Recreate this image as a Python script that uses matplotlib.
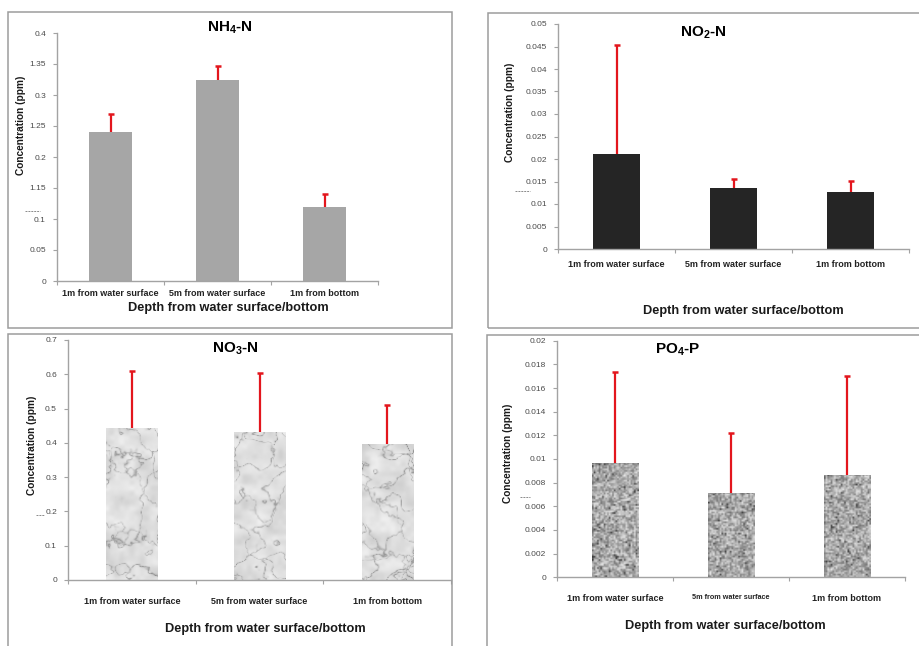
import numpy as np
import matplotlib
matplotlib.use("Agg")
import matplotlib.pyplot as plt
from matplotlib.patches import Rectangle
from matplotlib.lines import Line2D

# ---------------- data ----------------
categories = ["1m from water surface", "5m from water surface", "1m from bottom"]

nh4_values = [0.240, 0.325, 0.120]
nh4_err = [0.030, 0.022, 0.021]
nh4_ticks = [0, 0.05, 0.1, 0.15, 0.2, 0.25, 0.3, 0.35, 0.4]
nh4_ticklabels = ["0", "0.05", "0.1", "1.15", "0.2", "1.25", "0.3", "1.35", "0.4"]

no2_values = [0.0212, 0.0135, 0.0127]
no2_err = [0.0241, 0.0021, 0.0024]
no2_ticks = [0, 0.005, 0.01, 0.015, 0.02, 0.025, 0.03, 0.035, 0.04, 0.045, 0.05]
no2_ticklabels = ["0", "0.005", "0.01", "0.015", "0.02", "0.025", "0.03", "0.035", "0.04", "0.045", "0.05"]

no3_values = [0.444, 0.432, 0.397]
no3_err = [0.166, 0.171, 0.112]
no3_ticks = [0, 0.1, 0.2, 0.3, 0.4, 0.5, 0.6, 0.7]
no3_ticklabels = ["0", "0.1", "0.2", "0.3", "0.4", "0.5", "0.6", "0.7"]

po4_values = [0.00969, 0.00715, 0.00865]
po4_err = [0.00769, 0.00507, 0.00837]
po4_ticks = [0, 0.002, 0.004, 0.006, 0.008, 0.01, 0.012, 0.014, 0.016, 0.018, 0.02]
po4_ticklabels = ["0", "0.002", "0.004", "0.006", "0.008", "0.01", "0.012", "0.014", "0.016", "0.018", "0.02"]

xlabel_text = "Depth from water surface/bottom"
ylabel_text = "Concentration (ppm)"

# ---------------- style ----------------
plt.rcParams["font.family"] = ["Liberation Sans", "DejaVu Sans"]
plt.rcParams["mathtext.fontset"] = "custom"
plt.rcParams["mathtext.rm"] = "Liberation Sans:bold"
plt.rcParams["mathtext.bf"] = "Liberation Sans:bold"
plt.rcParams["mathtext.it"] = "Liberation Sans:bold"

W, H = 919, 646
fig = plt.figure(figsize=(W / 100, H / 100), dpi=100)
fig.patch.set_facecolor("white")

GRAY = "#a3a3a3"
RED = "#e3161d"


def fx(x):
    return x / W


def fy(y):
    return 1 - y / H


def add_axes(x0, x1, ytop, ybot):
    return fig.add_axes([x0 / W, 1 - ybot / H, (x1 - x0) / W, (ybot - ytop) / H])


def border(x0, y0, x1, y1):
    fig.add_artist(Rectangle((fx(x0), fy(y1)), (x1 - x0) / W, (y1 - y0) / H,
                             transform=fig.transFigure, fill=False,
                             ec="#9c9c9c", lw=1.1))


def dash(x0, x1, y):
    fig.add_artist(Line2D([fx(x0), fx(x1)], [fy(y), fy(y)], transform=fig.transFigure,
                          color="#8a8a8a", lw=0.7, ls=(0, (2, 1))))


# --------- texture helpers (styling only) ---------
def hash01(i, j, seed):
    v = np.sin(i * 12.9898 + j * 78.233 + seed * 4.1414) * 43758.5453
    return v - np.floor(v)


def value_noise(h, w, cell, seed):
    gh, gw = int(h // cell) + 3, int(w // cell) + 3
    gi, gj = np.mgrid[0:gh, 0:gw]
    g = hash01(gi.astype(float), gj.astype(float), seed)
    yy = np.arange(h) / cell
    xx = np.arange(w) / cell
    y0 = np.floor(yy).astype(int)
    x0 = np.floor(xx).astype(int)
    ty = yy - y0
    tx = xx - x0
    ty = ty * ty * (3 - 2 * ty)
    tx = tx * tx * (3 - 2 * tx)
    a = g[np.ix_(y0, x0)]
    b = g[np.ix_(y0, x0 + 1)]
    c = g[np.ix_(y0 + 1, x0)]
    d = g[np.ix_(y0 + 1, x0 + 1)]
    top = a + (b - a) * tx[None, :]
    bot = c + (d - c) * tx[None, :]
    return top + (bot - top) * ty[:, None]


def fbm(h, w, seed):
    out = np.zeros((h, w))
    amp, tot = 1.0, 0.0
    for k, cell in enumerate([28, 14, 7, 3]):
        out += amp * value_noise(h, w, cell, seed + k * 11)
        tot += amp
        amp *= 0.5
    return out / tot


def marble(h, w, seed):
    n1 = fbm(h, w, seed)
    n2 = fbm(h, w, seed + 50)
    y, x = np.mgrid[0:h, 0:w]
    v1 = np.abs(np.sin(x * 0.06 + y * 0.04 + n1 * 8))
    v2 = np.abs(np.sin(-x * 0.045 + y * 0.06 + n2 * 7))
    vein = np.maximum(np.exp(-v1 * 14), 0.7 * np.exp(-v2 * 16))
    soft = value_noise(h, w, 12, seed + 3)
    soft2 = value_noise(h, w, 5, seed + 9)
    base = 0.95 - 0.10 * soft - 0.05 * soft2
    img = base - 0.30 * vein
    return np.clip(img, 0, 1)


def granite(h, w, seed):
    i, j = np.mgrid[0:h, 0:w]
    n = hash01(i.astype(float), j.astype(float), seed)
    m = hash01(i.astype(float) + 0.5, j.astype(float) + 0.25, seed + 3)
    img = 0.42 + 0.50 * n
    img = np.where(m > 0.97, 0.18, img)
    sm = img.copy()
    sm[1:, :] += img[:-1, :]
    sm[:, 1:] += img[:, :-1]
    img = 0.6 * img + 0.4 * (sm / 3.0)
    return np.clip(img, 0, 1)


def style_axes(ax, ymax, ticks, labels, xfs, xpad, small_mid=False):
    ax.set_xlim(-0.5, 2.5)
    ax.set_ylim(0, ymax)
    ax.patch.set_alpha(0)
    for s in ["top", "right"]:
        ax.spines[s].set_visible(False)
    for s in ["left", "bottom"]:
        ax.spines[s].set_color(GRAY)
        ax.spines[s].set_linewidth(1.0)
    ax.set_yticks(ticks)
    ax.set_yticklabels(labels, fontsize=6, color="#4a4a4a")
    ax.tick_params(axis="y", direction="out", length=3, width=0.8, color=GRAY, pad=5)
    ax.set_xticks([0, 1, 2])
    ax.set_xticklabels(categories, fontsize=xfs, fontweight="bold", color="#222222")
    ax.tick_params(axis="x", which="major", length=0, pad=xpad)
    ax.set_xticks([-0.5, 0.5, 1.5, 2.5], minor=True)
    ax.tick_params(axis="x", which="minor", direction="out", length=3, width=0.8, color=GRAY)
    if small_mid:
        ax.get_xticklabels()[1].set_fontsize(5.2)


def errbars(ax, x, vals, errs):
    vals = np.asarray(vals)
    errs = np.asarray(errs)
    ax.vlines(x, vals, vals + errs, colors=RED, lw=1.6, zorder=4)
    ax.plot(x, vals + errs, ls="none", marker="_", ms=4.5, mew=1.8, color=RED, zorder=4)


x = np.arange(len(categories))
BW = 0.4

# ---------------- panel borders ----------------
border(8, 12, 452, 328)
border(488, 13, 930, 328)
border(8, 334, 452, 660)
border(487, 335, 930, 660)

# ---------------- Panel 1: NH4-N ----------------
ax1 = add_axes(57, 378, 33, 281)
ax1.bar(x, nh4_values, BW, color="#a6a6a6", zorder=2)
errbars(ax1, x, nh4_values, nh4_err)
style_axes(ax1, 0.4, nh4_ticks, nh4_ticklabels, 6.5, 6)

# ---------------- Panel 2: NO2-N ----------------
ax2 = add_axes(558, 909, 24, 249)
ax2.bar(x, no2_values, BW, color="#252525", zorder=2)
errbars(ax2, x, no2_values, no2_err)
style_axes(ax2, 0.05, no2_ticks, no2_ticklabels, 6.5, 8)

# ---------------- Panel 3: NO3-N (marble) ----------------
ax3 = add_axes(68, 451, 340, 580)
bars3 = ax3.bar(x, no3_values, BW, facecolor="none", edgecolor="none", zorder=2)
aw3, ah3 = 451 - 68, 580 - 340
for k, (b, v) in enumerate(zip(bars3, no3_values)):
    wpx = int(BW / 3 * aw3)
    hpx = max(int(v / 0.7 * ah3), 2)
    im = ax3.imshow(marble(hpx, wpx, 3 + k * 17), cmap="gray", vmin=0, vmax=1,
                    extent=(b.get_x(), b.get_x() + b.get_width(), 0, v),
                    aspect="auto", interpolation="bilinear", zorder=2)
    im.set_clip_path(b)
errbars(ax3, x, no3_values, no3_err)
style_axes(ax3, 0.7, no3_ticks, no3_ticklabels, 6.5, 12)

# ---------------- Panel 4: PO4-P (granite) ----------------
ax4 = add_axes(557, 905, 340.7, 577.3)
bars4 = ax4.bar(x, po4_values, BW, facecolor="none", edgecolor="none", zorder=2)
aw4, ah4 = 905 - 557, 577.3 - 340.7
for k, (b, v) in enumerate(zip(bars4, po4_values)):
    wpx = int(BW / 3 * aw4 / 1.6)
    hpx = max(int(v / 0.02 * ah4 / 1.6), 2)
    im = ax4.imshow(granite(hpx, wpx, 5 + k * 13), cmap="gray", vmin=0, vmax=1,
                    extent=(b.get_x(), b.get_x() + b.get_width(), 0, v),
                    aspect="auto", interpolation="bilinear", zorder=2)
    im.set_clip_path(b)
errbars(ax4, x, po4_values, po4_err)
style_axes(ax4, 0.02, po4_ticks, po4_ticklabels, 6.5, 12, small_mid=True)

# ---------------- titles / labels ----------------
fig.text(fx(230), fy(28), r"NH$_{4}$-N", fontsize=11, fontweight="bold", ha="center", va="center")
fig.text(fx(703), fy(33), r"NO$_{2}$-N", fontsize=11, fontweight="bold", ha="center", va="center")
fig.text(fx(235), fy(349), r"NO$_{3}$-N", fontsize=11, fontweight="bold", ha="center", va="center")
fig.text(fx(678), fy(350), r"PO$_{4}$-P", fontsize=11, fontweight="bold", ha="center", va="center")

for (cx, cy) in [(228, 308), (743, 311), (265, 629), (725, 626)]:
    fig.text(fx(cx), fy(cy), xlabel_text, fontsize=9.2, fontweight="bold",
             ha="center", va="center", color="#1a1a1a")

for (cx, cy) in [(21, 125), (510, 112), (32, 445), (508, 453)]:
    fig.text(fx(cx), fy(cy), ylabel_text, fontsize=7.3, fontweight="bold",
             rotation=90, ha="center", va="center", color="#1a1a1a")

# small stray marks near the y axes
dash(25, 40, 211)
dash(515, 530, 191)
dash(36, 44, 515)
dash(520, 530, 497)

fig.savefig("out.png", dpi=100, facecolor="white")
